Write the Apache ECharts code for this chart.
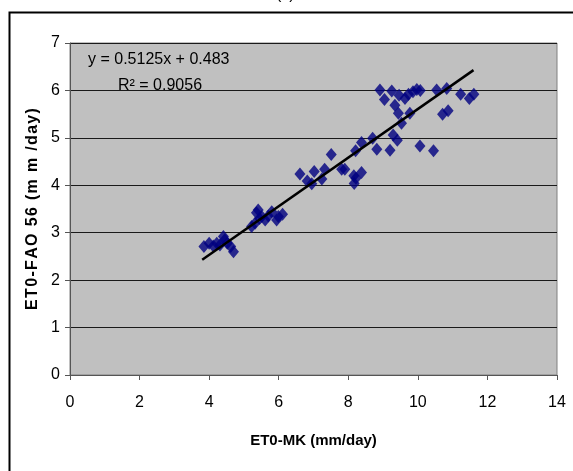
<!DOCTYPE html>
<html>
<head>
<meta charset="utf-8">
<script src="https://cdn.jsdelivr.net/npm/echarts@6/dist/echarts.min.js"></script>
<style>
  html, body { margin: 0; padding: 0; background: #fff; }
  #chart { width: 573px; height: 471px; }
</style>
</head>
<body>
<div id="chart"></div>
<script>
// ET0-MK (x) vs ET0-FAO 56 (y)
const etMK = [
  3.85, 4.00, 4.22, 4.31, 4.41, 4.52, 4.62, 4.70, 4.45, 4.12,
  5.22, 5.32, 5.41, 5.51, 5.61, 5.80, 5.94, 6.11, 5.99, 5.45, 5.70, 5.36,
  6.61, 6.82, 6.95, 7.02, 7.24, 7.32, 7.51, 7.81, 7.90,
  8.16, 8.22, 8.17, 8.38, 8.21, 8.38, 8.70, 8.82, 9.20, 9.29, 9.41,
  10.06, 10.45, 9.34, 9.44, 9.53, 9.77, 10.71, 10.87,
  8.91, 9.04, 9.25, 9.46, 9.63, 9.73, 9.86, 9.97, 10.07, 10.54, 10.83, 11.23, 11.48, 11.61
]
const etFAO = [
  2.71, 2.78, 2.78, 2.74, 2.92, 2.78, 2.71, 2.60, 2.85, 2.72,
  3.13, 3.20, 3.48, 3.34, 3.27, 3.44, 3.27, 3.39, 3.34, 3.30, 3.35, 3.42,
  4.24, 4.09, 4.03, 4.29, 4.13, 4.34, 4.65, 4.34, 4.34,
  4.20, 4.15, 4.04, 4.27, 4.73, 4.90, 4.99, 4.76, 4.74, 5.06, 4.95,
  4.83, 4.73, 5.69, 5.52, 5.31, 5.52, 5.50, 5.57,
  6.01, 5.81, 5.99, 5.90, 5.83, 5.92, 5.97, 6.02, 6.00, 6.01, 6.04, 5.92, 5.83, 5.92
]
// linear trend line as printed on the chart
const slope = 0.5125
const intercept = 0.483
const trendX = [3.8, 11.6]
const xTicks = [0, 2, 4, 6, 8, 10, 12, 14]
const yTicks = [0, 1, 2, 3, 4, 5, 6, 7]

const points = etMK.map((x, i) => [x, etFAO[i]])
const trend = trendX.map(x => [x, slope * x + intercept])

const font = 'Liberation Sans, Arial, sans-serif'
// the y title is printed letter-spaced in the original
const yTitle = 'ET0-FAO 56 (m m /day)'.split('').join('\u200a')

const chart = echarts.init(document.getElementById('chart'))

chart.setOption({
  animation: false,
  textStyle: { fontFamily: font },
  graphic: [
    {
      type: 'rect',
      left: 7, top: 10,
      shape: { width: 620, height: 520 },
      style: { fill: 'none', stroke: '#000', lineWidth: 2 },
      z: -1
    },
    {
      type: 'text', left: 276, top: -13,
      style: { text: '(c)', font: '16px ' + font, fill: '#000' }
    },
    {
      type: 'text', left: 88, top: 52,
      style: { text: 'y = 0.5125x + 0.483', font: '16px ' + font, fill: '#000' },
      z: 10
    },
    {
      type: 'text', left: 118, top: 78,
      style: { text: 'R² = 0.9056', font: '16px ' + font, fill: '#000' },
      z: 10
    }
  ],
  grid: {
    left: 70,
    top: 43,
    width: 487,
    height: 332,
    show: true,
    backgroundColor: '#c0c0c0',
    borderColor: '#808080',
    borderWidth: 1
  },
  xAxis: {
    type: 'value',
    min: xTicks[0],
    max: xTicks[xTicks.length - 1],
    interval: 2,
    name: 'ET0-MK (mm/day)',
    nameLocation: 'middle',
    nameGap: 58,
    nameTextStyle: { fontSize: 15, fontWeight: 'bold', color: '#000', fontFamily: font },
    axisLine: { onZero: false, lineStyle: { color: '#555', width: 1 } },
    axisTick: { show: true, inside: false, length: 5, lineStyle: { color: '#555' } },
    axisLabel: { color: '#000', fontSize: 16, margin: 20 },
    splitLine: { show: false }
  },
  yAxis: {
    type: 'value',
    min: yTicks[0],
    max: yTicks[yTicks.length - 1],
    interval: 1,
    name: yTitle,
    nameLocation: 'middle',
    nameGap: 27,
    nameTextStyle: { fontSize: 16, fontWeight: 'bold', color: '#000', fontFamily: font },
    axisLine: { show: true, onZero: false, lineStyle: { color: '#555', width: 1 } },
    axisTick: { show: true, inside: false, length: 5, lineStyle: { color: '#555' } },
    axisLabel: { color: '#000', fontSize: 16, margin: 10 },
    splitLine: { show: true, lineStyle: { color: '#1a1a1a', width: 1 } }
  },
  series: [
    {
      type: 'scatter',
      data: points,
      symbol: 'diamond',
      symbolSize: [11, 13],
      itemStyle: { color: '#000080' },
      z: 3
    },
    {
      type: 'line',
      data: trend,
      symbol: 'none',
      lineStyle: { color: '#000', width: 2.5 },
      z: 4
    }
  ]
})
</script>
</body>
</html>
